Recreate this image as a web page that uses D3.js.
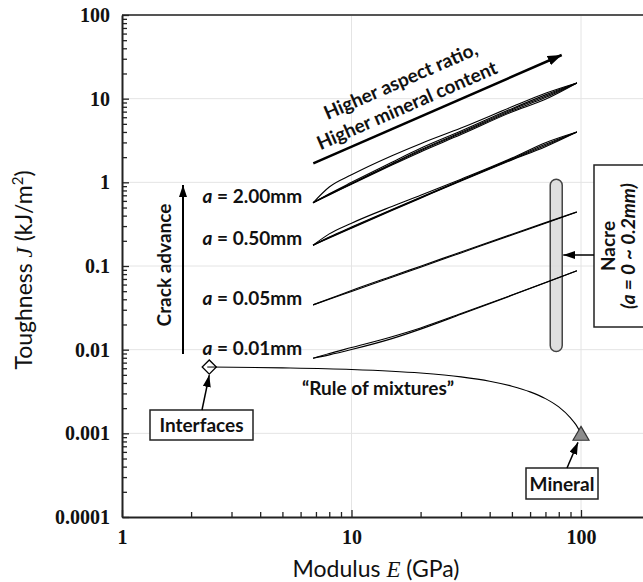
<!DOCTYPE html>
<html>
<head>
<meta charset="utf-8">
<script src="https://cdn.jsdelivr.net/npm/d3@7"></script>
<style>
  body { margin: 0; background: #fff; }
  svg { display: block; }
</style>
</head>
<body>
<svg id="chart" width="643" height="582"></svg>
<script>
// --- data ---
// modulus E (GPa) sampled along each crack-length bundle
const modulusE = [6.8, 8, 10, 15, 20, 30, 50, 70, 96];

// toughness J (kJ/m2), one array per aspect ratio / mineral content
const bundle200 = [
  [0.57, 0.88, 1.23, 2.08, 2.90, 4.45, 7.98, 11.6, 15.4],
  [0.57, 0.73, 1.00, 1.74, 2.55, 4.10, 7.60, 11.1, 15.4],
  [0.57, 0.72, 0.97, 1.67, 2.45, 3.97, 7.38, 10.7, 15.4],
  [0.57, 0.713, 0.96, 1.64, 2.38, 3.85, 7.16, 10.3, 15.4],
  [0.57, 0.705, 0.95, 1.61, 2.31, 3.72, 6.93, 9.84, 15.4]
];
const bundle050 = [
  [0.177, 0.242, 0.325, 0.515, 0.700, 1.09, 1.95, 2.98, 4.0],
  [0.177, 0.222, 0.292, 0.475, 0.662, 1.06, 1.91, 2.85, 4.0],
  [0.177, 0.219, 0.287, 0.467, 0.654, 1.05, 1.88, 2.76, 4.0],
  [0.177, 0.216, 0.283, 0.460, 0.646, 1.04, 1.85, 2.67, 4.0]
];
const bundle005 = [
  [0.0343, 0.0400, 0.0497, 0.0734, 0.0969, 0.1434, 0.235, 0.325, 0.443],
  [0.0343, 0.0405, 0.0510, 0.0755, 0.0995, 0.147, 0.240, 0.330, 0.443]
];
const bundle001 = [
  [0.0079, 0.00866, 0.01003, 0.01355, 0.0176, 0.0265, 0.0446, 0.0632, 0.088],
  [0.0079, 0.0090, 0.0106, 0.0143, 0.0182, 0.0270, 0.0450, 0.0635, 0.088]
];
const crackLengths = ["2.00", "0.50", "0.05", "0.01"];

// "rule of mixtures" curve between interfaces and mineral
const mixE = [2.4, 5, 10, 20, 30, 40, 50, 60, 70, 80, 90, 95, 100];
const mixJ = [0.0062, 0.00606, 0.00580, 0.00526, 0.00473, 0.00420, 0.00366,
              0.00313, 0.00260, 0.00207, 0.00153, 0.00127, 0.00100];

// nacre range (a = 0 ~ 0.2mm)
const nacreE = 78;
const nacreJ = [0.0095, 1.09];

// tick labels
const yDecades = [0.0001, 0.001, 0.01, 0.1, 1, 10, 100];
const yTickLabels = ["0.0001", "0.001", "0.01", "0.1", "1", "10", "100"];
const xDecades = [1, 10, 100];
const xTickLabels = ["1", "10", "100"];

// --- setup ---
const W = 643;
const svg = d3.select("#chart");
const x = d3.scaleLog().domain([1, 1000]).range([122, 810.5]);
const y = d3.scaleLog().domain([0.0001, 100]).range([517, 15]);

const boldSans = "Lato, 'Open Sans', sans-serif";
const tickFont = "'Liberation Serif', 'Times New Roman', serif";
const annSize = 19;

const defs = svg.append("defs");
function arrowMarker(id, len, wid) {
  defs.append("marker")
    .attr("id", id)
    .attr("viewBox", `0 0 ${len} ${wid}`)
    .attr("refX", len).attr("refY", wid / 2)
    .attr("markerWidth", len).attr("markerHeight", wid)
    .attr("markerUnits", "userSpaceOnUse")
    .attr("orient", "auto")
    .append("path")
    .attr("d", `M0,0L${len},${wid / 2}L0,${wid}Z`)
    .attr("fill", "#000");
}
arrowMarker("headBig", 14, 10);
arrowMarker("headSmall", 12, 8);

// grid
const grid = svg.append("g").attr("stroke", "#e4e4e4").attr("stroke-width", 1);
yDecades.slice(1).forEach(v => {
  grid.append("line").attr("x1", x(1)).attr("x2", W).attr("y1", y(v)).attr("y2", y(v));
});
xDecades.slice(1).forEach(v => {
  grid.append("line").attr("x1", x(v)).attr("x2", x(v)).attr("y1", y(100)).attr("y2", y(0.0001));
});

// top frame
svg.append("line")
  .attr("x1", x(1)).attr("x2", W).attr("y1", y(100)).attr("y2", y(100))
  .attr("stroke", "#555").attr("stroke-width", 2);

const isDecade = d => Math.abs(Math.log10(d) - Math.round(Math.log10(d))) < 1e-9;
const labelOf = (decades, labels) => d => {
  if (!isDecade(d)) return "";
  const i = decades.findIndex(v => Math.abs(Math.log10(v) - Math.log10(d)) < 1e-9);
  return i < 0 ? "" : labels[i];
};

// axes
const yAxis = d3.axisLeft(y)
  .tickValues(y.ticks())
  .tickSizeInner(-5).tickSizeOuter(0).tickPadding(12)
  .tickFormat(labelOf(yDecades, yTickLabels));
const gy = svg.append("g").attr("transform", `translate(${x(1)},0)`).call(yAxis);

const xAxis = d3.axisBottom(x)
  .tickValues(x.ticks().filter(d => x(d) < W))
  .tickSizeInner(-5).tickSizeOuter(0).tickPadding(13)
  .tickFormat(labelOf(xDecades, xTickLabels));
const gx = svg.append("g").attr("transform", `translate(0,${y(0.0001)})`).call(xAxis);

[gx, gy].forEach(g => {
  g.select(".domain").attr("stroke", "#222").attr("stroke-width", 2);
  g.selectAll(".tick line").attr("stroke", "#222").attr("stroke-width", 1.3);
  g.selectAll(".tick text")
    .attr("font-family", tickFont).attr("font-weight", "bold")
    .attr("font-size", 20).attr("fill", "#111");
});
gx.selectAll(".tick").filter(d => isDecade(d)).select("line").attr("y2", -7);
gy.selectAll(".tick").filter(d => isDecade(d)).select("line").attr("x2", 7);

// axis titles
const yTitle = svg.append("text")
  .attr("transform", `translate(32,270) rotate(-90)`)
  .attr("text-anchor", "middle")
  .attr("font-family", "Lato, sans-serif").attr("font-size", 23).attr("fill", "#111");
yTitle.append("tspan").text("Toughness ");
yTitle.append("tspan").attr("font-family", tickFont).attr("font-style", "italic").text("J");
yTitle.append("tspan").text(" (kJ/m");
yTitle.append("tspan").attr("font-size", 15).attr("dy", -9).text("2");
yTitle.append("tspan").attr("dy", 9).text(")");

const xTitle = svg.append("text")
  .attr("x", 376).attr("y", 577)
  .attr("text-anchor", "middle")
  .attr("font-family", "Lato, sans-serif").attr("font-size", 23).attr("fill", "#111");
xTitle.append("tspan").text("Modulus ");
xTitle.append("tspan").attr("font-family", tickFont).attr("font-style", "italic").text("E");
xTitle.append("tspan").text(" (GPa)");

// --- nacre bar ---
const barW = 12;
svg.append("rect")
  .attr("x", x(nacreE) - barW / 2).attr("width", barW)
  .attr("y", y(nacreJ[1])).attr("height", y(nacreJ[0]) - y(nacreJ[1]))
  .attr("rx", 6)
  .attr("fill", "#d9d9d9").attr("fill-opacity", 0.85)
  .attr("stroke", "#444").attr("stroke-width", 1.5);

// --- bundles ---
const line = d3.line()
  .x(d => x(d[0])).y(d => y(d[1]))
  .curve(d3.curveMonotoneX);

const bundles = [bundle200, bundle050, bundle005, bundle001];
const curves = svg.append("g").attr("fill", "none").attr("stroke", "#000").attr("stroke-width", 1.1);
bundles.forEach((b, i) => {
  b.forEach(series => {
    curves.append("path").attr("d", line(modulusE.map((e, k) => [e, series[k]])));
  });
  const lbl = svg.append("text")
    .attr("x", x(modulusE[0]) - 11).attr("y", y(b[0][0]) + (i === 3 ? -3 : 0))
    .attr("text-anchor", "end")
    .attr("font-family", boldSans).attr("font-weight", "bold").attr("font-size", annSize).attr("fill", "#111");
  lbl.append("tspan").attr("font-style", "italic").text("a");
  lbl.append("tspan").text(` = ${crackLengths[i]}mm`);
});

// rule of mixtures
svg.append("path")
  .attr("d", line(mixE.map((e, k) => [e, mixJ[k]])))
  .attr("fill", "none").attr("stroke", "#000").attr("stroke-width", 1.1);

svg.append("path")
  .attr("d", d3.symbol(d3.symbolSquare, 100)())
  .attr("transform", `translate(${x(mixE[0])},${y(mixJ[0])}) rotate(45)`)
  .attr("fill", "#fff").attr("stroke", "#000").attr("stroke-width", 1.3);
svg.append("line")
  .attr("x1", x(mixE[0]) - 2).attr("x2", x(mixE[0]) + 7)
  .attr("y1", y(mixJ[0])).attr("y2", y(mixJ[0]))
  .attr("stroke", "#000").attr("stroke-width", 1);

const triSize = 111;
const triR = Math.sqrt(triSize / (Math.sqrt(3) * 3));
svg.append("path")
  .attr("d", d3.symbol(d3.symbolTriangle, triSize)())
  .attr("transform", `translate(${x(mixE[mixE.length - 1])},${y(mixJ[mixJ.length - 1]) + triR / 2})`)
  .attr("fill", "#8c8c8c").attr("stroke", "#333").attr("stroke-width", 1.2);

svg.append("text")
  .attr("x", 378).attr("y", 395)
  .attr("text-anchor", "middle")
  .attr("font-family", boldSans).attr("font-weight", "bold").attr("font-size", annSize).attr("fill", "#111")
  .text("\u201CRule of mixtures\u201D");

// --- annotations ---
// higher aspect ratio arrow
const a0 = [313.3, 163.3], a1 = [561.7, 55];
svg.append("line")
  .attr("x1", a0[0]).attr("y1", a0[1]).attr("x2", a1[0]).attr("y2", a1[1])
  .attr("stroke", "#000").attr("stroke-width", 2.5)
  .attr("marker-end", "url(#headBig)");
const ang = Math.atan2(a1[1] - a0[1], a1[0] - a0[0]) * 180 / Math.PI;
const aTxt = svg.append("g")
  .attr("transform", `translate(${a0[0]},${a0[1]}) rotate(${ang})`)
  .attr("font-family", boldSans).attr("font-weight", "bold").attr("font-size", annSize)
  .attr("fill", "#111").attr("text-anchor", "middle");
aTxt.append("text").attr("x", 113).attr("y", -34).text("Higher aspect ratio,");
aTxt.append("text").attr("x", 109).attr("y", -9).text("Higher mineral content");

// crack advance arrow
svg.append("line")
  .attr("x1", 183).attr("x2", 183).attr("y1", 354).attr("y2", 185)
  .attr("stroke", "#000").attr("stroke-width", 2)
  .attr("marker-end", "url(#headSmall)");
svg.append("text")
  .attr("transform", "translate(171,265) rotate(-90)")
  .attr("text-anchor", "middle")
  .attr("font-family", boldSans).attr("font-weight", "bold").attr("font-size", annSize).attr("fill", "#111")
  .text("Crack advance");

// nacre label box
svg.append("rect")
  .attr("x", 594).attr("y", 165).attr("width", 80).attr("height", 162)
  .attr("fill", "#fff").attr("stroke", "#222").attr("stroke-width", 1.5);
const nTxt = svg.append("g")
  .attr("transform", "translate(617,246) rotate(-90)")
  .attr("font-family", boldSans).attr("font-weight", "bold").attr("font-size", annSize)
  .attr("fill", "#111").attr("text-anchor", "middle");
nTxt.append("text").attr("x", 0).attr("y", -2).text("Nacre");
nTxt.append("text").attr("x", 0).attr("y", 18).attr("font-style", "italic").text("(a = 0 ~ 0.2mm)");
svg.append("line")
  .attr("x1", 594).attr("x2", x(nacreE) + barW / 2 + 1).attr("y1", 255).attr("y2", 255)
  .attr("stroke", "#000").attr("stroke-width", 1.5)
  .attr("marker-end", "url(#headSmall)");

// interfaces box
svg.append("rect")
  .attr("x", 150).attr("y", 410).attr("width", 103).attr("height", 30)
  .attr("fill", "#fff").attr("stroke", "#222").attr("stroke-width", 1.5);
svg.append("text")
  .attr("x", 201.5).attr("y", 431.5)
  .attr("text-anchor", "middle")
  .attr("font-family", boldSans).attr("font-weight", "bold").attr("font-size", annSize).attr("fill", "#111")
  .text("Interfaces");
svg.append("line")
  .attr("x1", 202).attr("y1", 410).attr("x2", x(mixE[0])).attr("y2", y(mixJ[0]) + 8)
  .attr("stroke", "#000").attr("stroke-width", 1.5)
  .attr("marker-end", "url(#headSmall)");

// mineral box
svg.append("rect")
  .attr("x", 526).attr("y", 468).attr("width", 72).attr("height", 31)
  .attr("fill", "#fff").attr("stroke", "#222").attr("stroke-width", 1.5);
svg.append("text")
  .attr("x", 562).attr("y", 490.5)
  .attr("text-anchor", "middle")
  .attr("font-family", boldSans).attr("font-weight", "bold").attr("font-size", annSize).attr("fill", "#111")
  .text("Mineral");
svg.append("line")
  .attr("x1", 567).attr("y1", 468).attr("x2", x(100) - 3).attr("y2", y(0.001) + 9)
  .attr("stroke", "#000").attr("stroke-width", 1.5)
  .attr("marker-end", "url(#headSmall)");
</script>
</body>
</html>
